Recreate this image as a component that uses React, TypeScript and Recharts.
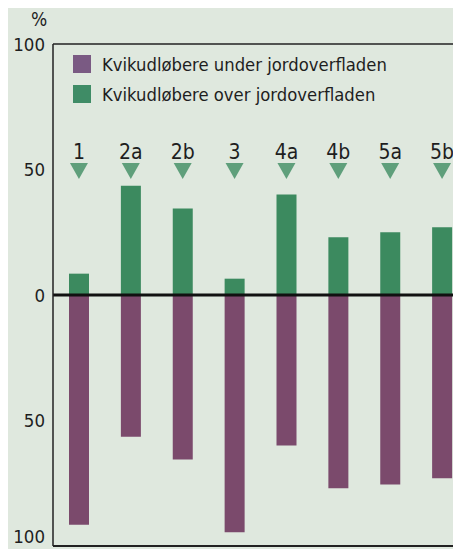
import React from 'react';
import { BarChart, Bar, XAxis, YAxis, ReferenceLine, Legend } from 'recharts';

const categories = ['1', '2a', '2b', '3', '4a', '4b', '5a', '5b'];
const underGround = [-91.5, -56.5, -65.5, -94.5, -60, -77, -75.5, -73];
const overGround = [8.5, 43.5, 34.5, 6.5, 40, 23, 25, 27];
const yTicks = [-100, -50, 0, 50, 100];

const data = categories.map((c, i) => ({
  name: c,
  under: underGround[i],
  over: overGround[i],
}));

const FONT = "'Liberation Sans Narrow', 'DejaVu Sans Condensed', sans-serif";

const TopTick = (props: any) => {
  const { x, payload } = props;
  return (
    <g>
      <text x={x} y={159} textAnchor="middle" fontSize={21} fontFamily={FONT} fill="#1e1e1e">
        {payload.value}
      </text>
      <polygon points={`${x - 9},163 ${x + 9},163 ${x},179`} fill="#5f9f7b" />
    </g>
  );
};

// the lowest label sits on the frame edge, nudge it up so it stays on the page
const LeftTick = (props: any) => {
  const { x, y, payload } = props;
  const shift = payload.value === -100 ? -10 : 0;
  return (
    <text
      x={x}
      y={y + shift}
      dy="0.355em"
      textAnchor="end"
      fontSize={18.5}
      fontFamily={FONT}
      fill="#1e1e1e"
    >
      {Math.abs(payload.value)}
    </text>
  );
};

const LegendContent = ({ payload }: any) => {
  const items = [...(payload || [])].sort((a: any) => (a.dataKey === 'under' ? -1 : 1));
  return (
    <div style={{ fontFamily: FONT, fontSize: 18.3, color: '#1e1e1e' }}>
      {items.map((entry: any, index: number) => (
        <div key={index} style={{ display: 'flex', alignItems: 'center', height: 30 }}>
          <span
            style={{
              display: 'inline-block',
              width: 18,
              height: 18,
              background: entry.dataKey === 'under' ? '#7a5a83' : '#3f8c66',
              marginRight: 11,
            }}
          />
          <span>{entry.value}</span>
        </div>
      ))}
    </div>
  );
};

export default function App() {
  return (
    <div
      style={{
        position: 'relative',
        marginLeft: -8,
        marginTop: -8,
        width: 461,
        height: 549,
        overflow: 'hidden',
        background: '#dfe8de',
      }}
    >
      <span
        style={{
          position: 'absolute',
          left: 31,
          top: 8,
          fontFamily: FONT,
          fontSize: 19,
          color: '#1e1e1e',
        }}
      >
        %
      </span>
      <BarChart
        width={470}
        height={549}
        data={data}
        stackOffset="sign"
        barSize={20}
        margin={{ top: 44, right: 2, bottom: 2, left: 0 }}
      >
        <XAxis
          dataKey="name"
          height={1}
          axisLine={false}
          tickLine={false}
          tick={TopTick}
          interval={0}
        />
        <YAxis
          width={53}
          domain={[-100, 100]}
          ticks={yTicks}
          interval={0}
          tickLine={false}
          axisLine={{ stroke: '#222', strokeWidth: 1.5 }}
          tick={LeftTick}
        />
        <Legend
          layout="vertical"
          align="center"
          verticalAlign="middle"
          wrapperStyle={{ top: 49, left: 73, width: 'auto' }}
          content={<LegendContent />}
        />
        <Bar
          dataKey="under"
          stackId="a"
          fill="#7b4a6c"
          name="Kvikudløbere under jordoverfladen"
          isAnimationActive={false}
        />
        <Bar
          dataKey="over"
          stackId="a"
          fill="#3c8a5f"
          name="Kvikudløbere over jordoverfladen"
          isAnimationActive={false}
        />
        <ReferenceLine y={0} stroke="#111" strokeWidth={3} />
        <ReferenceLine y={100} stroke="#222" strokeWidth={1.5} />
        <ReferenceLine y={-100} stroke="#222" strokeWidth={2} />
      </BarChart>
    </div>
  );
}
